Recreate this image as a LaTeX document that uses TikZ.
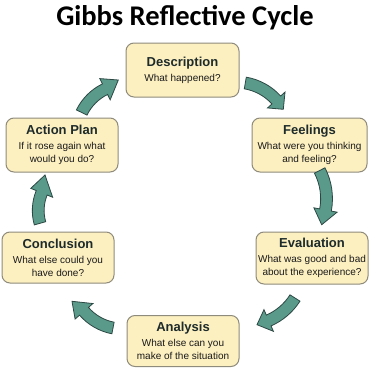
\documentclass[tikz,border=0pt]{standalone}
\usepackage{fontspec}
\setmainfont{Liberation Sans}
\newfontfamily\carlitofont{Carlito}
\usetikzlibrary{calc}
\definecolor{boxfill}{HTML}{FCEFC0}
\definecolor{boxline}{HTML}{8E8B7C}
\definecolor{arrfill}{HTML}{5A9A8B}
\definecolor{arrline}{HTML}{2C4843}
\definecolor{headtxt}{HTML}{1D2B2B}
\definecolor{subtxt}{HTML}{1A1A1A}
\newcommand\hwv{5.9}
\newcommand\Hwv{11.8}
\newcommand\cycarrow[7]{%
  \pgfmathsetmacro\cyUx{#3-#1}%
  \pgfmathsetmacro\cyUy{#4-#2}%
  \pgfmathsetmacro\cyC{veclen(\cyUx,\cyUy)}%
  \pgfmathsetmacro\cyD{0.5*\cyC*cot(#5/2)}%
  \pgfmathsetmacro\cyCx{(#1+#3)/2-\cyD*\cyUy/\cyC}%
  \pgfmathsetmacro\cyCy{(#2+#4)/2+\cyD*\cyUx/\cyC}%
  \pgfmathsetmacro\cyR{\cyC/(2*abs(sin(#5/2)))}%
  \pgfmathsetmacro\cyA{atan2(#2-\cyCy,#1-\cyCx)}%
  \pgfmathsetmacro\cyB{\cyA+#5}%
  \pgfmathsetmacro\cyRo{\cyR+\hwv}%
  \pgfmathsetmacro\cyRi{\cyR-\hwv}%
  \pgfmathsetmacro\cyHo{\cyR+\Hwv}%
  \pgfmathsetmacro\cyHi{\cyR-\Hwv}%
  \path[cycarr] ([shift={(\cyCx,\cyCy)}]\cyA:\cyRo)
    arc[start angle=\cyA,end angle=\cyB,radius=\cyRo pt]
    -- ([shift={(\cyCx,\cyCy)}]\cyB:\cyHo)
    -- (#6,#7)
    -- ([shift={(\cyCx,\cyCy)}]\cyB:\cyHi)
    -- ([shift={(\cyCx,\cyCy)}]\cyB:\cyRi)
    arc[start angle=\cyB,end angle=\cyA,radius=\cyRi pt]
    -- cycle;
}
\begin{document}
\begin{tikzpicture}[x=1pt,y=1pt,
  stage/.style={draw=boxline, fill=boxfill, line width=1pt, rounded corners=8pt,
    inner sep=0pt, align=center, text=subtxt,
    font=\fontsize{10}{13}\selectfont},
  cycarr/.style={fill=arrfill, draw=arrline, line width=0.8pt, line join=miter}]
\useasboundingbox (0,0) rectangle (370,368);
\fill[white] (0,0) rectangle (370,368);
\node[anchor=base, text=black, font=\carlitofont\bfseries\fontsize{28.5}{32}\selectfont] (title) at (185,343) {Gibbs Reflective Cycle};
\node[stage, minimum width=113pt, minimum height=54pt] (desc) at (182.5,298)
  {{\bfseries\fontsize{13}{15}\selectfont\color{headtxt}Description}\\[2pt]What happened?};
\node[stage, minimum width=115pt, minimum height=54pt] (feel) at (309.5,223)
  {{\bfseries\fontsize{13}{15}\selectfont\color{headtxt}Feelings}\\[2pt]What were you thinking\\and feeling?};
\node[stage, minimum width=112pt, minimum height=52pt] (eval) at (312,110)
  {{\bfseries\fontsize{13}{15}\selectfont\color{headtxt}Evaluation}\\[2pt]What was good and bad\\about the experience?};
\node[stage, minimum width=112pt, minimum height=51pt] (anal) at (183,27)
  {{\bfseries\fontsize{13}{15}\selectfont\color{headtxt}Analysis}\\[2pt]What else can you\\make of the situation};
\node[stage, minimum width=112pt, minimum height=51pt] (conc) at (58,110.5)
  {{\bfseries\fontsize{13}{15}\selectfont\color{headtxt}Conclusion}\\[2pt]What else could you\\have done?};
\node[stage, minimum width=112pt, minimum height=54pt] (act) at (62,223)
  {{\bfseries\fontsize{13}{15}\selectfont\color{headtxt}Action Plan}\\[2pt]If it rose again what\\would you do?};
% cycle arrows
\cycarrow{245.3}{285}{276.3}{268}{-38}{283.3}{258.7}
\cycarrow{319.7}{197.5}{325.5}{158}{-38}{321.7}{143.3}
\cycarrow{295}{70}{268.7}{47.5}{-34}{257}{43.3}
\cycarrow{113}{40}{84}{56.7}{-38}{72}{66.7}
\cycarrow{40}{144.7}{41.7}{175.2}{-38}{45}{193}
\cycarrow{81.7}{255.5}{105}{278.8}{-38}{118.3}{288}
\end{tikzpicture}
\end{document}
